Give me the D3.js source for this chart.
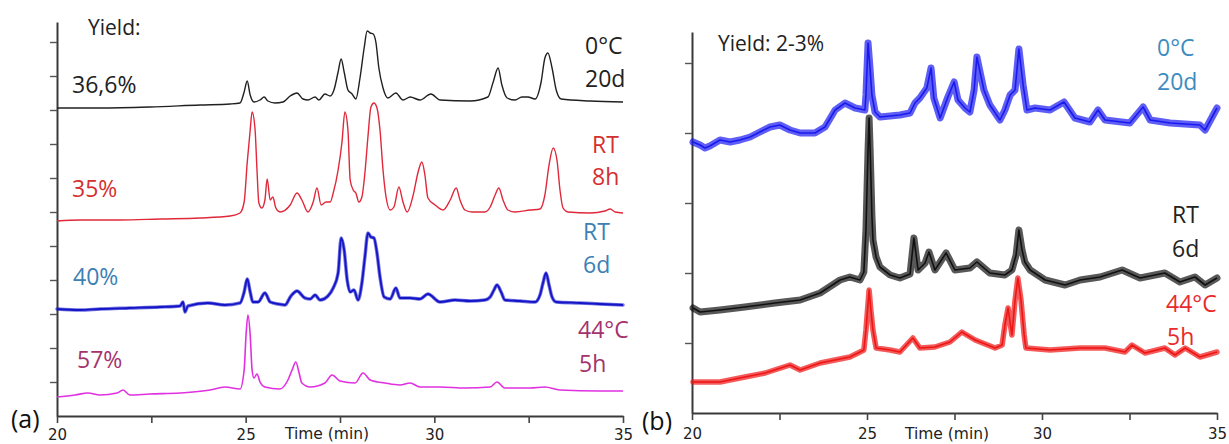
<!DOCTYPE html>
<html><head><meta charset="utf-8">
<script src="https://cdn.jsdelivr.net/npm/d3@7"></script>
<style>
body{margin:0;background:#fff;}
svg{display:block;}
</style>
</head><body>
<svg id="chart" width="1229" height="444"></svg>
<script>
// ---------- DATA ----------
const timeDomain = [20, 35];
const majorTimeTicks = [20, 25, 30, 35];
const minorTimeTicks = [22.5, 27.5, 32.5];
const xAxisTitle = "Time (min)";
const leftIntensityTicks = [34, 68, 102, 136, 170, 204, 238, 272, 306, 340, 374];
const rightIntensityTicks = [70, 140, 210, 280, 350];

// Panel (a): [time (min), intensity (a.u.)]
const a_0C_20d = [[20.00,308],[21.14,308],[22.46,309],[23.79,311],[24.59,312],[24.85,313],[24.96,324],[25.04,335],[25.12,321],[25.22,314],[25.38,316],[25.49,319],[25.59,315],[25.78,313],[25.99,314],[26.18,320],[26.36,323],[26.52,317],[26.65,316],[26.84,319],[26.94,316],[27.10,322],[27.24,320],[27.34,326],[27.45,344],[27.53,357],[27.61,344],[27.71,326],[27.82,322],[27.92,317],[28.03,338],[28.14,368],[28.22,385],[28.30,383],[28.38,382],[28.45,374],[28.53,348],[28.64,328],[28.77,318],[28.98,323],[29.17,316],[29.36,319],[29.62,316],[29.91,322],[30.15,316],[30.95,315],[31.42,319],[31.56,334],[31.69,348],[31.79,331],[31.93,318],[32.14,316],[32.32,319],[32.48,319],[32.67,317],[32.83,334],[32.93,358],[33.01,363],[33.12,348],[33.23,326],[33.36,317],[34.13,315],[35.00,314]];
const a_RT_8h = [[20.00,195],[20.61,196],[21.67,196],[22.73,197],[23.79,198],[24.59,200],[24.85,203],[24.96,214],[25.04,253],[25.12,286],[25.17,304],[25.25,286],[25.30,246],[25.35,213],[25.43,208],[25.51,216],[25.57,237],[25.65,216],[25.72,219],[25.80,208],[25.91,204],[26.18,211],[26.36,223],[26.49,216],[26.65,204],[26.79,214],[26.89,228],[27.00,211],[27.13,214],[27.24,214],[27.32,223],[27.45,246],[27.55,273],[27.63,304],[27.71,286],[27.77,236],[27.85,226],[27.92,223],[28.00,214],[28.08,219],[28.16,243],[28.24,279],[28.32,309],[28.40,313],[28.48,308],[28.56,286],[28.64,246],[28.72,219],[28.83,206],[28.93,209],[29.06,229],[29.17,214],[29.28,204],[29.44,221],[29.57,244],[29.67,254],[29.75,241],[29.83,218],[30.02,211],[30.23,206],[30.42,216],[30.58,228],[30.68,216],[30.81,206],[31.00,204],[31.34,204],[31.48,209],[31.61,221],[31.71,228],[31.82,216],[31.95,206],[32.14,204],[32.54,206],[32.80,207],[32.93,221],[33.04,251],[33.15,268],[33.25,256],[33.33,226],[33.41,208],[33.54,204],[34.13,203],[34.52,205],[34.66,207],[34.79,204],[35.00,203]];
const a_RT_6d = [[20.00,107],[20.61,106],[21.14,107],[21.93,108],[22.73,109],[23.26,110],[23.34,114],[23.39,104],[23.47,110],[24.00,113],[24.45,111],[24.85,113],[24.96,124],[25.04,137],[25.12,124],[25.19,114],[25.33,114],[25.51,123],[25.65,114],[25.86,112],[26.04,111],[26.20,120],[26.36,125],[26.57,118],[26.71,117],[26.84,121],[26.97,116],[27.18,120],[27.32,128],[27.45,143],[27.53,178],[27.61,166],[27.69,136],[27.77,124],[27.87,126],[27.98,116],[28.08,133],[28.16,159],[28.24,183],[28.32,179],[28.40,178],[28.48,163],[28.56,139],[28.67,119],[28.83,117],[28.98,128],[29.09,118],[29.36,118],[29.62,117],[29.83,122],[30.15,114],[30.55,116],[30.95,115],[31.34,116],[31.48,119],[31.58,126],[31.66,131],[31.77,124],[31.87,116],[32.27,115],[32.67,114],[32.80,121],[32.88,133],[32.96,143],[33.04,131],[33.12,119],[33.23,114],[33.86,113],[34.39,112],[35.00,111]];
const a_44C_5h = [[20.00,19],[20.48,21],[20.82,23],[21.14,21],[21.59,23],[21.75,26],[21.93,21],[22.46,22],[23.26,23],[24.06,26],[24.45,29],[24.85,27],[24.96,46],[25.01,81],[25.06,101],[25.12,81],[25.17,46],[25.22,38],[25.30,42],[25.38,34],[25.51,29],[25.91,27],[26.12,36],[26.23,46],[26.33,54],[26.41,44],[26.49,33],[26.71,29],[27.10,33],[27.29,41],[27.50,35],[27.90,33],[28.11,43],[28.30,36],[28.69,33],[29.09,31],[29.36,33],[29.62,29],[30.15,29],[30.81,28],[31.48,29],[31.66,34],[31.87,28],[32.54,28],[32.93,29],[33.33,26],[34.39,25],[35.00,25]];

// Panel (b)
const b_0C_20d = [[20.03,271],[20.23,268],[20.37,265],[20.51,267],[20.80,273],[21.09,271],[21.37,273],[21.66,276],[21.94,281],[22.23,286],[22.51,288],[22.80,283],[23.09,280],[23.51,280],[23.80,286],[24.09,303],[24.37,310],[24.66,305],[24.94,303],[24.97,318],[25.03,370],[25.09,343],[25.14,318],[25.23,301],[25.37,296],[25.94,298],[26.23,300],[26.37,310],[26.51,315],[26.71,325],[26.83,345],[26.91,315],[27.09,295],[27.31,316],[27.49,331],[27.60,313],[27.80,305],[27.94,301],[28.06,323],[28.14,356],[28.23,341],[28.34,323],[28.51,308],[28.80,293],[28.94,303],[29.09,318],[29.23,323],[29.34,364],[29.46,328],[29.57,303],[29.80,305],[30.23,303],[30.63,311],[30.94,295],[31.37,291],[31.60,303],[31.80,293],[32.51,290],[32.89,306],[33.09,293],[33.66,290],[34.51,288],[34.66,283],[35.00,305]];
const b_RT_6d = [[20.03,105],[20.23,101],[20.80,103],[21.51,106],[22.37,110],[23.09,113],[23.66,120],[24.23,133],[24.51,136],[24.80,133],[24.91,141],[24.97,183],[25.03,263],[25.06,295],[25.09,263],[25.14,198],[25.17,173],[25.26,156],[25.37,146],[25.66,138],[25.94,135],[26.23,139],[26.34,175],[26.46,143],[26.66,150],[26.77,161],[26.94,143],[27.26,160],[27.51,143],[27.94,145],[28.14,151],[28.51,140],[28.94,138],[29.14,143],[29.26,158],[29.34,183],[29.43,163],[29.51,151],[29.66,143],[30.09,133],[30.66,128],[31.09,133],[31.66,136],[32.29,143],[32.80,135],[33.51,140],[33.94,131],[34.37,136],[34.66,128],[35.00,135]];
const b_44C_5h = [[20.03,31],[20.80,31],[21.51,36],[22.09,40],[22.80,48],[23.09,43],[23.66,50],[24.51,56],[24.80,61],[24.91,63],[24.97,83],[25.06,123],[25.11,103],[25.17,83],[25.26,65],[25.66,63],[25.94,61],[26.31,75],[26.51,65],[26.94,66],[27.37,71],[27.71,81],[28.09,73],[28.66,65],[28.86,68],[28.94,88],[29.03,105],[29.14,78],[29.23,113],[29.31,135],[29.40,113],[29.49,78],[29.54,65],[30.23,63],[31.09,65],[31.80,65],[32.37,61],[32.57,68],[32.94,60],[33.51,65],[33.80,58],[34.09,65],[34.51,56],[35.00,61]];

// Label texts
const panelTags = ["(a)", "(b)"];
const yieldTexts = ["Yield:", "Yield: 2-3%"];
const aYields = ["36,6%", "35%", "40%", "57%"];
const conditions = [["0°C","20d"], ["RT","8h"], ["RT","6d"], ["44°C","5h"]];

// ---------- DRAW ----------
const svg = d3.select("#chart");
const labelFont = "'Open Sans', 'Noto Sans', sans-serif";
const axisFont = "'DejaVu Sans', Verdana, sans-serif";

function drawPanel(p) {
  const x = d3.scaleLinear().domain(timeDomain).range([p.left, p.right]);
  const y = d3.scaleLinear().domain([0, p.yMax]).range([p.bottom, p.top]);
  const g = svg.append("g");

  const allTicks = majorTimeTicks.concat(minorTimeTicks).sort((a,b)=>a-b);
  const xAxis = d3.axisBottom(x).tickValues(allTicks).tickSize(7).tickSizeOuter(0)
    .tickPadding(p.tickPad).tickFormat(d => majorTimeTicks.includes(d) ? d : "");
  const gx = g.append("g").attr("transform", `translate(0,${p.bottom})`).call(xAxis);
  gx.select(".domain").attr("stroke", "#3a3a3a").attr("stroke-width", 2);
  gx.selectAll(".tick line").attr("stroke", "#444").attr("stroke-width", 1.6);
  gx.selectAll(".tick text").attr("font-family", axisFont).attr("font-size", 15).attr("fill", "#222");

  const yAxis = d3.axisLeft(y).tickValues(p.yTicks).tickSize(7).tickSizeOuter(0).tickFormat("");
  const gy = g.append("g").attr("transform", `translate(${p.left},0)`).call(yAxis);
  gy.select(".domain").attr("stroke", "#3a3a3a").attr("stroke-width", 2);
  gy.selectAll(".tick line").attr("stroke", "#555").attr("stroke-width", 1.4);

  g.append("text").attr("x", p.titleX).attr("y", 439).attr("text-anchor", "middle")
    .attr("font-family", axisFont).attr("font-size", 15.5).attr("fill", "#222").text(xAxisTitle);

  p.series.forEach(s => {
    const line = d3.line().x(d => x(d[0])).y(d => y(d[1])).curve(s.curve || d3.curveMonotoneX);
    if (s.band) {
      g.append("path").datum(s.data).attr("d", line).attr("fill", "none")
        .attr("stroke", s.color).attr("stroke-width", s.band).attr("stroke-opacity", s.bandOpacity || 0.55)
        .attr("stroke-linejoin", "round").attr("stroke-linecap", "round");
    }
    g.append("path").datum(s.data).attr("d", line).attr("fill", "none")
      .attr("stroke", s.color).attr("stroke-width", s.width).attr("stroke-linejoin", "round");
  });

  p.labels.forEach(l => {
    g.append("text").attr("x", l.x).attr("y", l.y).attr("font-family", labelFont)
      .attr("font-size", l.size || 22).attr("fill", l.color).text(l.text);
  });
}

drawPanel({
  left: 57, right: 623, bottom: 416, top: 22, yMax: 394, yTicks: leftIntensityTicks, tickPad: 6, titleX: 327,
  series: [
    {data: a_0C_20d, color: "#202020", width: 1.4},
    {data: a_RT_8h, color: "#e0283a", width: 1.4},
    {data: a_RT_6d, color: "#1414c8", width: 1.8, band: 3.5, bandOpacity: 0.6},
    {data: a_44C_5h, color: "#e030e0", width: 1.6}
  ],
  labels: [
    {text: yieldTexts[0], x: 88, y: 35, color: "#222", size: 21},
    {text: aYields[0], x: 72, y: 93, color: "#222", size: 23},
    {text: aYields[1], x: 72, y: 197, color: "#d43030", size: 23},
    {text: aYields[2], x: 73, y: 285, color: "#3c80b4", size: 23},
    {text: aYields[3], x: 77, y: 368, color: "#a3336c", size: 23},
    {text: conditions[0][0], x: 585, y: 54, color: "#222", size: 23},
    {text: conditions[0][1], x: 585, y: 87, color: "#222", size: 23},
    {text: conditions[1][0], x: 592, y: 153, color: "#d43030", size: 23},
    {text: conditions[1][1], x: 592, y: 185, color: "#d43030", size: 23},
    {text: conditions[2][0], x: 583, y: 240, color: "#3c80b4", size: 23},
    {text: conditions[2][1], x: 583, y: 273, color: "#3c80b4", size: 23},
    {text: conditions[3][0], x: 578, y: 338, color: "#a3336c", size: 23},
    {text: conditions[3][1], x: 579, y: 372, color: "#a3336c", size: 23},
    {text: panelTags[0], x: 11, y: 428, color: "#111", size: 25}
  ]
});

drawPanel({
  left: 692, right: 1217, bottom: 413, top: 32, yMax: 381, yTicks: rightIntensityTicks, tickPad: 8, titleX: 947,
  series: [
    {data: b_0C_20d, color: "#1a1af0", width: 1.6, band: 7, bandOpacity: 0.7, curve: d3.curveLinear},
    {data: b_RT_6d, color: "#111111", width: 1.6, band: 7, bandOpacity: 0.7, curve: d3.curveLinear},
    {data: b_44C_5h, color: "#ee1515", width: 1.6, band: 5.5, bandOpacity: 0.7, curve: d3.curveLinear}
  ],
  labels: [
    {text: yieldTexts[1], x: 718, y: 51, color: "#222", size: 21},
    {text: conditions[0][0], x: 1157, y: 56, color: "#3c8cc0", size: 23},
    {text: conditions[0][1], x: 1157, y: 90, color: "#3c8cc0", size: 23},
    {text: conditions[2][0], x: 1172, y: 223, color: "#222", size: 23},
    {text: conditions[2][1], x: 1172, y: 257, color: "#222", size: 23},
    {text: conditions[3][0], x: 1166, y: 312, color: "#e82a2a", size: 23},
    {text: conditions[3][1], x: 1167, y: 345, color: "#e82a2a", size: 23},
    {text: panelTags[1], x: 642, y: 430, color: "#111", size: 25}
  ]
});
</script>
</body></html>
